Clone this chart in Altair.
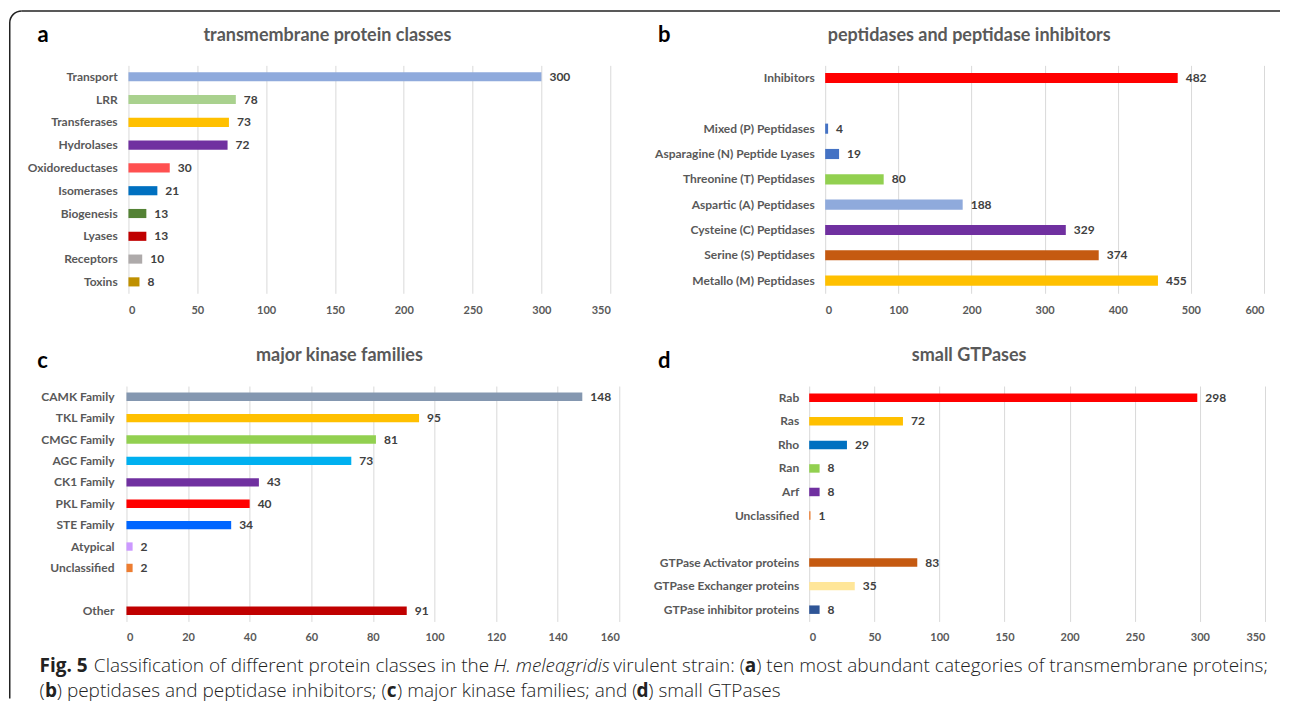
import altair as alt
import pandas as pd

# ---------------- data ----------------
a_order = ["Transport", "LRR", "Transferases", "Hydrolases", "Oxidoreductases",
           "Isomerases", "Biogenesis", "Lyases", "Receptors", "Toxins"]
a_cats = ["Transport", "LRR", "Transferases", "Hydrolases", "Oxidoreductases",
          "Isomerases", "Biogenesis", "Lyases", "Receptors", "Toxins"]
a_vals = [300, 78, 73, 72, 30, 21, 13, 13, 10, 8]
a_cols = ["#8FAADC", "#A9D18E", "#FFC000", "#7030A0", "#FF5050",
          "#0070C0", "#548235", "#C00000", "#AEAAAA", "#BF9000"]
a_ticks = [0, 50, 100, 150, 200, 250, 300, 350]

b_order = ["Inhibitors", " ", "Mixed (P) Peptidases", "Asparagine (N) Peptide Lyases",
           "Threonine (T) Peptidases", "Aspartic (A) Peptidases", "Cysteine (C) Peptidases",
           "Serine (S) Peptidases", "Metallo (M) Peptidases"]
b_cats = ["Inhibitors", "Mixed (P) Peptidases", "Asparagine (N) Peptide Lyases",
          "Threonine (T) Peptidases", "Aspartic (A) Peptidases", "Cysteine (C) Peptidases",
          "Serine (S) Peptidases", "Metallo (M) Peptidases"]
b_vals = [482, 4, 19, 80, 188, 329, 374, 455]
b_cols = ["#FF0000", "#4472C4", "#4472C4", "#92D050", "#8FAADC", "#7030A0", "#C55A11", "#FFC000"]
b_ticks = [0, 100, 200, 300, 400, 500, 600]

c_order = ["CAMK Family", "TKL Family", "CMGC Family", "AGC Family", "CK1 Family",
           "PKL Family", "STE Family", "Atypical", "Unclassified", " ", "Other"]
c_cats = ["CAMK Family", "TKL Family", "CMGC Family", "AGC Family", "CK1 Family",
          "PKL Family", "STE Family", "Atypical", "Unclassified", "Other"]
c_vals = [148, 95, 81, 73, 43, 40, 34, 2, 2, 91]
c_cols = ["#8497B0", "#FFC000", "#92D050", "#00B0F0", "#7030A0",
          "#FF0000", "#0066FF", "#CC99FF", "#ED7D31", "#C00000"]
c_ticks = [0, 20, 40, 60, 80, 100, 120, 140, 160]

d_order = ["Rab", "Ras", "Rho", "Ran", "Arf", "Unclassified", " ",
           "GTPase Activator proteins", "GTPase Exchanger proteins", "GTPase inhibitor proteins"]
d_cats = ["Rab", "Ras", "Rho", "Ran", "Arf", "Unclassified",
          "GTPase Activator proteins", "GTPase Exchanger proteins", "GTPase inhibitor proteins"]
d_vals = [298, 72, 29, 8, 8, 1, 83, 35, 8]
d_cols = ["#FF0000", "#FFC000", "#0070C0", "#92D050", "#7030A0", "#ED7D31",
          "#C55A11", "#FFE699", "#2F5597"]
d_ticks = [0, 50, 100, 150, 200, 250, 300, 350]

titles = ["transmembrane protein classes", "peptidases and peptidase inhibitors",
          "major kinase families", "small GTPases"]
letters = ["a", "b", "c", "d"]

# caption: (text, page x, line, style)
caption = [
    ("Fig. 5", 39, 0, "b"),
    ("Classification of different protein classes in the", 93.4, 0, "n"),
    ("H. meleagridis", 493.2, 0, "i"),
    ("virulent strain: (", 613, 0, "n"),
    ("a", 744.6, 0, "b"),
    (") ten most abundant categories of transmembrane proteins;", 756, 0, "n"),
    ("(", 39, 1, "n"),
    ("b", 44.4, 1, "b"),
    (") peptidases and peptidase inhibitors; (", 56.3, 1, "n"),
    ("c", 386.4, 1, "b"),
    (") major kinase families; and (", 396.7, 1, "n"),
    ("d", 636.2, 1, "b"),
    (") small GTPases", 648.1, 1, "n"),
]

# ---------------- style ----------------
FONT = "Lato"
GRAY = "#595959"
CAP_FONT = "Open Sans"


def one(v):
    return pd.DataFrame({"t": [v]})


def panel(order, cats, vals, cols, ticks, width, height, xrange, pin,
          y_off, y_pad, x_pad, title, letter, tpos, lpos):
    df = pd.DataFrame({"cat": cats, "val": vals, "col": cols})
    base = alt.Chart(df)
    y = alt.Y("cat:N",
              scale=alt.Scale(domain=order, paddingInner=pin, paddingOuter=pin / 2),
              axis=alt.Axis(domain=False, ticks=False, tickSize=0, grid=False,
                            labelPadding=y_pad, offset=y_off, labelFont=FONT,
                            labelFontSize=12, labelFontWeight="bold",
                            labelColor=GRAY, labelLimit=400),
              title="")
    x = alt.X("val:Q",
              scale=alt.Scale(domain=[ticks[0], ticks[-1]], range=xrange, nice=False),
              axis=alt.Axis(values=ticks, domain=False, ticks=False, tickSize=0,
                            grid=True, gridColor="#D9D9D9", gridWidth=1,
                            labelPadding=x_pad, labelFont=FONT, labelFontSize=11,
                            labelFontWeight="bold", labelColor=GRAY),
              title="")
    bars = base.mark_bar().encode(x=x, y=y, color=alt.Color("col:N", scale=None))
    labels = base.mark_text(align="left", baseline="middle", dx=8, font=FONT,
                            fontSize=12, fontWeight="bold", color="#404040").encode(
        x="val:Q", y="cat:N", text="val:Q")
    ttl = alt.Chart(one(title)).mark_text(
        font=FONT, fontSize=18, fontWeight="bold", color=GRAY, align="center",
        baseline="alphabetic").encode(text="t:N", x=alt.value(tpos[0]), y=alt.value(tpos[1]))
    let = alt.Chart(one(letter)).mark_text(
        font=FONT, fontSize=22, fontWeight="bold", color="#000000", align="center",
        baseline="alphabetic").encode(text="t:N", x=alt.value(lpos[0]), y=alt.value(lpos[1]))
    return [bars, labels, ttl, let]


# panel cell origins on the page: col1 x=126, col2 x=809; row1 y=64.5, row2 y=385.3
OX, OY = 126, 64.5

la = panel(a_order, a_cats, a_vals, a_cols, a_ticks, 493, 228, [2, 484], 0.6,
           0, 9.3, 11.5, titles[0], letters[0], (201, -24.5), (-83.5, -23.5))
lb = panel(b_order, b_cats, b_vals, b_cols, b_ticks, 456, 228, [16, 455], 0.6,
           -16, 11, 11.5, titles[1], letters[1], (160, -24.5), (-145, -23.5))
lc = panel(c_order, c_cats, c_vals, c_cols, c_ticks, 493, 235.5, [0, 493], 0.61,
           0, 12.5, 10.5, titles[2], letters[2], (213, -25), (-84, -18))
ld = panel(d_order, d_cats, d_vals, d_cols, d_ticks, 456, 235.5, [0, 456], 0.64,
           0, 10.5, 10.5, titles[3], letters[3], (160, -25), (-145, -18))

# frame (drawn in panel a's coordinates)
FX = 9.25 - OX
FY = 10 - OY
R = 12
frame = [
    alt.Chart(one(0)).mark_rule(color="#222222", strokeWidth=1.5).encode(
        x=alt.value(FX + R), x2=alt.value(1280 - OX), y=alt.value(FY)),
    alt.Chart(one(0)).mark_rule(color="#222222", strokeWidth=1.5).encode(
        x=alt.value(FX), y=alt.value(FY + R), y2=alt.value(698 - OY)),
    alt.Chart(one(0)).mark_arc(color="#222222", theta=4.712389, theta2=6.283185,
                               radius=R + 0.75, radius2=R - 0.75).encode(
        x=alt.value(FX + R), y=alt.value(FY + R)),
]

cap_layers = []
line_y = [671, 696]
for text, px, line, st in caption:
    kw = dict(font=CAP_FONT, fontSize=19.0, color="#222222", align="left",
              baseline="alphabetic")
    if st == "b":
        kw["fontWeight"] = "bold"
    else:
        kw["fontWeight"] = 300
    if st == "i":
        kw["fontStyle"] = "italic"
    cap_layers.append(
        alt.Chart(one(text)).mark_text(**kw).encode(
            text="t:N", x=alt.value(px - OX), y=alt.value(line_y[line] - OY)))

pa = alt.layer(*(la + frame + cap_layers)).properties(width=493, height=228)
pb = alt.layer(*lb).properties(width=456, height=228)
pc = alt.layer(*lc).properties(width=493, height=235.5)
pd_ = alt.layer(*ld).properties(width=456, height=235.5)

chart = alt.concat(
    pa, pb, pc, pd_, columns=2,
    spacing={"row": 92.8, "column": 190},
    bounds="flush",
    padding={"left": 0.5, "top": 1.25, "right": 0, "bottom": 0},
).configure_view(stroke="transparent")

chart.save("out.html", embed_options={"renderer": "svg", "actions": False})
